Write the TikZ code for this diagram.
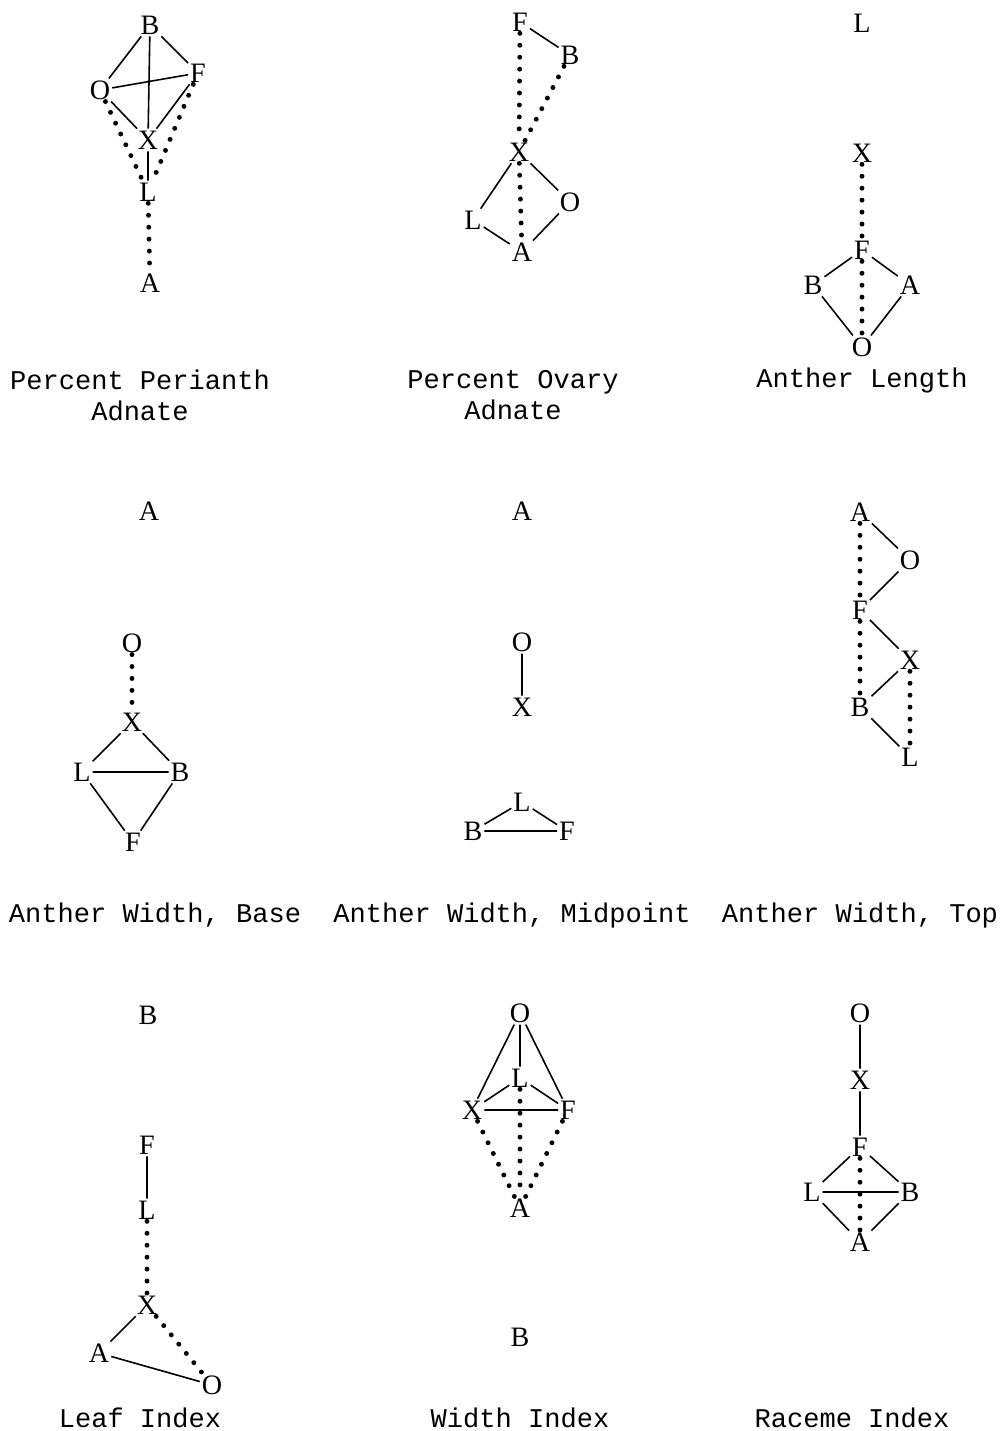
\documentclass[tikz,border=0pt]{standalone}
\usepackage{fontspec}
\setmainfont{Liberation Serif}
\setmonofont{Liberation Mono}
\usetikzlibrary{arrows.meta}

\begin{document}
\begin{tikzpicture}[x=0.02cm, y=-0.02cm,
    trait/.style={inner sep=1pt, font=\fontsize{16}{18}\selectfont},
    caption/.style={align=center, font=\ttfamily\fontsize{15.4}{17.6}\selectfont},
    link/.style={line width=0.9pt},
    dots/.style={line width=2.8pt, line cap=round, dash pattern=on 0pt off 6.8pt}]
  \useasboundingbox (0,0) rectangle (1000,1431);

  % Percent Perianth Adnate
  \node[trait] (aB) at (150,25) {B};
  \node[trait] (aF) at (198,73) {F};
  \node[trait] (aO) at (100,90) {O};
  \node[trait] (aX) at (148,140) {X};
  \node[trait] (aL) at (148,192) {L};
  \node[trait] (aA) at (150,283) {A};
  \draw[link] (aB) -- (aO) (aB) -- (aF) (aO) -- (aF) (aB) -- (aX) -- (aL)
              (aO) -- (aX) -- (aF);
  \draw[dots] (aO) -- (aL) (aF) -- (aL) (aL) -- (aA);
  \node[caption] (ta) at (140,395) {Percent Perianth\\Adnate};

  % Percent Ovary Adnate
  \node[trait] (bF) at (520,22) {F};
  \node[trait] (bB) at (570,55) {B};
  \node[trait] (bX) at (519,152) {X};
  \node[trait] (bL) at (473,220) {L};
  \node[trait] (bO) at (570,202) {O};
  \node[trait] (bA) at (522,252) {A};
  \draw[link] (bF) -- (bB) (bX) -- (bL) -- (bA) -- (bO) -- (bX);
  \draw[dots] (bF) -- (bX) (bB) -- (bX) (bX) -- (bA);
  \node[caption] (tb) at (513,395) {Percent Ovary\\Adnate};

  % Anther Length
  \node[trait] (cL) at (862,23) {L};
  \node[trait] (cX) at (862,153) {X};
  \node[trait] (cF) at (862,250) {F};
  \node[trait] (cB) at (813,285) {B};
  \node[trait] (cA) at (910,285) {A};
  \node[trait] (cO) at (862,347) {O};
  \draw[link] (cF) -- (cB) -- (cO) -- (cA) -- (cF);
  \draw[dots] (cX) -- (cF) -- (cO);
  \node[caption] (tc) at (862,380) {Anther Length};

  % Anther Width, Base
  \node[trait] (dA) at (149,511) {A};
  \node[trait] (dO) at (132,643) {O};
  \node[trait] (dX) at (132,722) {X};
  \node[trait] (dL) at (82,772) {L};
  \node[trait] (dB) at (180,772) {B};
  \node[trait] (dF) at (133,842) {F};
  \draw[link] (dX) -- (dL) -- (dB) -- (dX) (dL) -- (dF) -- (dB);
  \draw[dots] (dO) -- (dX);
  \node[caption] (td) at (155,915) {Anther Width, Base};

  % Anther Width, Midpoint
  \node[trait] (eA) at (522,511) {A};
  \node[trait] (eO) at (522,642) {O};
  \node[trait] (eX) at (522,707) {X};
  \node[trait] (eL) at (522,802) {L};
  \node[trait] (eB) at (473,831) {B};
  \node[trait] (eF) at (567,831) {F};
  \draw[link] (eO) -- (eX) (eL) -- (eB) -- (eF) -- (eL);
  \node[caption] (te) at (512,915) {Anther Width, Midpoint};

  % Anther Width, Top
  \node[trait] (fA) at (860,512) {A};
  \node[trait] (fO) at (910,560) {O};
  \node[trait] (fF) at (860,610) {F};
  \node[trait] (fX) at (910,660) {X};
  \node[trait] (fB) at (860,707) {B};
  \node[trait] (fL) at (910,757) {L};
  \draw[link] (fA) -- (fO) -- (fF) -- (fX) -- (fB) -- (fL);
  \draw[dots] (fA) -- (fF) -- (fB) (fX) -- (fL);
  \node[caption] (tf) at (860,915) {Anther Width, Top};

  % Leaf Index
  \node[trait] (gB) at (148,1015) {B};
  \node[trait] (gF) at (147,1145) {F};
  \node[trait] (gL) at (147,1210) {L};
  \node[trait] (gX) at (147,1305) {X};
  \node[trait] (gA) at (99,1353) {A};
  \node[trait] (gO) at (212,1385) {O};
  \draw[link] (gF) -- (gL) (gX) -- (gA) -- (gO);
  \draw[dots] (gL) -- (gX) -- (gO);
  \node[caption] (tg) at (140,1418) {Leaf Index};

  % Width Index
  \node[trait] (hO) at (520,1013) {O};
  \node[trait] (hL) at (520,1078) {L};
  \node[trait] (hX) at (472,1110) {X};
  \node[trait] (hF) at (568,1110) {F};
  \node[trait] (hA) at (520,1208) {A};
  \node[trait] (hB) at (520,1337) {B};
  \draw[link] (hO) -- (hX) (hO) -- (hL) (hO) -- (hF)
              (hL) -- (hX) -- (hF) -- (hL);
  \draw[dots] (hX) -- (hA) (hL) -- (hA) (hF) -- (hA);
  \node[caption] (th) at (520,1418) {Width Index};

  % Raceme Index
  \node[trait] (iO) at (860,1013) {O};
  \node[trait] (iX) at (860,1080) {X};
  \node[trait] (iF) at (860,1147) {F};
  \node[trait] (iL) at (812,1192) {L};
  \node[trait] (iB) at (910,1192) {B};
  \node[trait] (iA) at (860,1242) {A};
  \draw[link] (iO) -- (iX) -- (iF) (iF) -- (iL) -- (iB) -- (iF)
              (iL) -- (iA) -- (iB);
  \draw[dots] (iF) -- (iA);
  \node[caption] (ti) at (852,1418) {Raceme Index};
\end{tikzpicture}
\end{document}
